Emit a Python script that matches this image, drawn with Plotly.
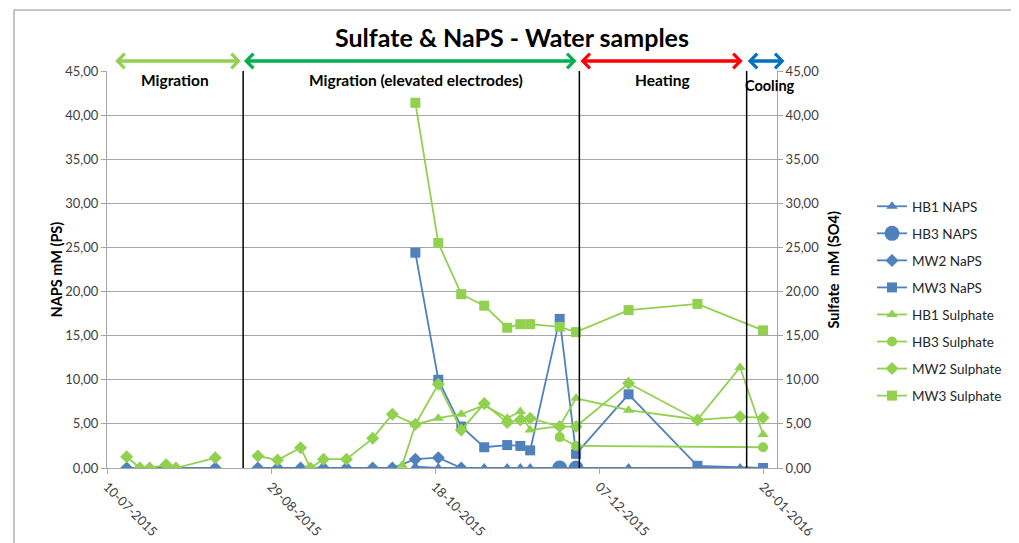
import plotly.graph_objects as go

# ---------------- data ----------------
hb1_naps_dates = ['2015-10-12', '2015-10-19', '2015-10-26', '2015-11-02', '2015-11-09',
                  '2015-11-13', '2015-11-16', '2015-12-16', '2016-01-19']
hb1_naps = [0.15, 0, 0, 0, 0, 0, 0, 0, 0]

hb3_naps_dates = ['2015-11-25', '2015-11-30']
hb3_naps = [0, 0]

mw2_naps_dates = ['2015-07-16', '2015-07-28', '2015-08-12', '2015-08-18', '2015-08-25', '2015-08-31',
                  '2015-09-07', '2015-09-14', '2015-09-21', '2015-09-29', '2015-10-05',
                  '2015-10-12', '2015-10-19', '2015-10-26']
mw2_naps = [0, 0, 0, None, 0, 0, 0, 0, 0, 0, 0, 1.0, 1.17, 0]

mw3_naps_dates = ['2015-10-12', '2015-10-19', '2015-10-26', '2015-11-02', '2015-11-09',
                  '2015-11-13', '2015-11-16', '2015-11-25', '2015-11-30', '2015-12-16',
                  '2016-01-06', '2016-01-26']
mw3_naps = [24.4, 10.0, 4.7, 2.35, 2.6, 2.5, 2.0, 16.9, 1.6, 8.35, 0.25, 0]

hb1_sul_dates = ['2015-10-08', '2015-10-12', '2015-10-19', '2015-10-26', '2015-11-02',
                 '2015-11-09', '2015-11-13', '2015-11-16', '2015-11-25', '2015-11-30',
                 '2015-12-16', '2016-01-06', '2016-01-19', '2016-01-26']
hb1_sul = [0.3, 4.9, 5.65, 6.1, 7.1, 5.65, 6.4, 4.3, 4.75, 7.9, 6.55, 5.5, 11.4, 3.8]

hb3_sul_dates = ['2015-11-25', '2015-11-30', '2016-01-26']
hb3_sul = [3.5, 2.5, 2.35]

mw2_sul_dates = ['2015-07-16', '2015-07-20', '2015-07-23', '2015-07-28', '2015-07-31',
                 '2015-08-12', '2015-08-18', '2015-08-25', '2015-08-31', '2015-09-07', '2015-09-10',
                 '2015-09-14', '2015-09-21', '2015-09-29', '2015-10-05', '2015-10-12',
                 '2015-10-19', '2015-10-26', '2015-11-02', '2015-11-09', '2015-11-13',
                 '2015-11-16', '2015-11-25', '2015-11-30', '2015-12-16', '2016-01-06',
                 '2016-01-19', '2016-01-26']
mw2_sul = [1.28, 0, 0, 0.36, 0, 1.15, None, 1.36, 0.9, 2.3, 0, 1.0, 1.0, 3.36, 6.1, 4.95,
           9.5, 4.3, 7.3, 5.15, 5.45, 5.65, 4.7, 4.7, 9.6, 5.45, 5.8, 5.7]

mw3_sul_dates = ['2015-10-12', '2015-10-19', '2015-10-26', '2015-11-02', '2015-11-09',
                 '2015-11-13', '2015-11-16', '2015-11-25', '2015-11-30', '2015-12-16',
                 '2016-01-06', '2016-01-26']
mw3_sul = [41.4, 25.5, 19.7, 18.4, 15.9, 16.3, 16.3, 16.0, 15.4, 17.9, 18.6, 15.6]

x_tick_vals = ['2015-07-10', '2015-08-29', '2015-10-18', '2015-12-07', '2016-01-26']
x_tick_text = ['10-07-2015', '29-08-2015', '18-10-2015', '07-12-2015', '26-01-2016']
y_tick_vals = [0, 5, 10, 15, 20, 25, 30, 35, 40, 45]
y_tick_text = ['0,00', '5,00', '10,00', '15,00', '20,00', '25,00', '30,00', '35,00', '40,00', '45,00']

phase_lines = ['2015-08-20 12:00', '2015-12-01', '2016-01-21']
phase_labels = ['Migration', 'Migration (elevated electrodes)', 'Heating', 'Cooling']
phase_arrows = [('2015-07-12 12:00', '2015-08-20 06:00', '#92D050'),
                ('2015-08-20 18:00', '2015-11-30 14:00', '#00B050'),
                ('2015-12-01 08:00', '2016-01-20 06:00', '#FF0000'),
                ('2016-01-21 08:00', '2016-02-02', '#0070C0')]

# ---------------- figure ----------------
BLUE = '#4F81BD'
GREEN = '#92D050'
FONT = 'Lato, Open Sans, sans-serif'
OFF = 8                      # page body margin
W, H = 1019 - OFF, 543 - OFF
PL, PT, PR, PB = 107, 71, 777, 468   # plot area in page pixels
PW, PH = PR - PL, PB - PT
L, T = PL - OFF, PT - OFF
R, B = W - (PR - OFF), H - (PB - OFF)

fig = go.Figure()

def add(name, xs, ys, color, symbol, size, axis, group):
    fig.add_trace(go.Scatter(
        x=xs, y=ys, name=name, mode='lines+markers', yaxis=axis,
        legendgroup=group, connectgaps=False,
        line=dict(color=color, width=1.8),
        marker=dict(color=color, symbol=symbol, size=size, line=dict(width=0)),
    ))

add('HB1 NAPS', hb1_naps_dates, hb1_naps, BLUE, 'triangle-up', 10, 'y', 'g1')
add('HB3 NAPS', hb3_naps_dates, hb3_naps, BLUE, 'circle', 15, 'y', 'g2')
add('MW2 NaPS', mw2_naps_dates, mw2_naps, BLUE, 'diamond', 10, 'y', 'g3')
add('MW3 NaPS', mw3_naps_dates, mw3_naps, BLUE, 'square', 10, 'y', 'g4')
add('HB1 Sulphate', hb1_sul_dates, hb1_sul, GREEN, 'triangle-up', 10, 'y2', 'g5')
add('HB3 Sulphate', hb3_sul_dates, hb3_sul, GREEN, 'circle', 10, 'y2', 'g6')
add('MW2 Sulphate', mw2_sul_dates, mw2_sul, GREEN, 'diamond', 10, 'y2', 'g7')
add('MW3 Sulphate', mw3_sul_dates, mw3_sul, GREEN, 'square', 10, 'y2', 'g8')

x_range = ['2015-07-10', '2016-01-30 06:00']

def px(x):   # page x -> paper fraction
    return (x - PL) / PW

def py(y):   # page y -> paper fraction
    return (PB - y) / PH

shapes = []
for d in phase_lines:
    shapes.append(dict(type='line', xref='x', yref='y', x0=d, x1=d, y0=0, y1=45,
                       line=dict(color='black', width=1.5), layer='above'))
# chart outer frame
shapes.append(dict(type='rect', xref='paper', yref='paper',
                   x0=px(14), x1=px(1015), y0=py(600), y1=py(10),
                   line=dict(color='#8C8C8C', width=1), layer='below'))

annotations = []
label_x = [175, 416, 662, 770]
label_y = [80, 80, 80, 85]
label_size = [15.5, 15.5, 15.5, 14.5]
for txt, lx, ly, ls in zip(phase_labels, label_x, label_y, label_size):
    annotations.append(dict(text='<b>%s</b>' % txt, xref='paper', yref='paper',
                            x=px(lx), y=py(ly), showarrow=False,
                            xanchor='center', yanchor='middle',
                            font=dict(family=FONT, size=ls, color='black')))
for a, b, c in phase_arrows:
    annotations.append(dict(text='', xref='x', yref='paper', x=a, y=py(61),
                            axref='x', ax=b, ayref='pixel', ay=0, showarrow=True,
                            arrowside='end+start', arrowhead=4, startarrowhead=4,
                            arrowsize=0.8, startarrowsize=0.8, arrowwidth=3.5,
                            arrowcolor=c, standoff=0, startstandoff=0))
annotations.append(dict(text='<b>NAPS mM (PS)</b>', xref='paper', yref='paper',
                        x=px(45), y=py(270), textangle=-90, showarrow=False,
                        font=dict(family=FONT, size=14.5, color='black')))
annotations.append(dict(text='<b>Sulfate  mM (SO4)</b>', xref='paper', yref='paper',
                        x=px(843), y=py(270), textangle=-90, showarrow=False,
                        font=dict(family=FONT, size=14.5, color='black')))

axis_common = dict(tickvals=y_tick_vals, ticktext=y_tick_text, range=[0, 45],
                   showline=True, linecolor='#A6A6A6', linewidth=1,
                   ticks='outside', ticklen=5, tickcolor='#A6A6A6',
                   tickfont=dict(family=FONT, size=13, color='#404040'),
                   zeroline=False, fixedrange=True, automargin=False)

fig.update_layout(
    width=W, height=H, autosize=False,
    margin=dict(l=L, r=R, t=T, b=B, autoexpand=False),
    paper_bgcolor='white', plot_bgcolor='white',
    title=dict(text='<b>Sulfate &amp; NaPS - Water samples</b>', x=(512 - OFF) / W,
               xanchor='center', y=1 - (38 - OFF) / H, yanchor='middle',
               font=dict(family=FONT, size=25, color='black')),
    xaxis=dict(type='date', range=x_range, tickvals=x_tick_vals, ticktext=x_tick_text,
               tickangle=45, showline=True, linecolor='#A6A6A6', linewidth=1,
               ticks='outside', ticklen=5, tickcolor='#A6A6A6', showgrid=False,
               tickfont=dict(family=FONT, size=13, color='#404040'), zeroline=False,
               automargin=False),
    yaxis=dict(**axis_common, showgrid=True, gridcolor='#A6A6A6', gridwidth=1),
    yaxis2=dict(**axis_common, overlaying='y', side='right', showgrid=False),
    legend=dict(x=px(872), y=py(191), xanchor='left', yanchor='top',
                font=dict(family=FONT, size=13.5, color='#262626'),
                tracegroupgap=6.5, bgcolor='rgba(0,0,0,0)'),
    shapes=shapes, annotations=annotations, showlegend=True,
)

fig.write_html('out.html')
